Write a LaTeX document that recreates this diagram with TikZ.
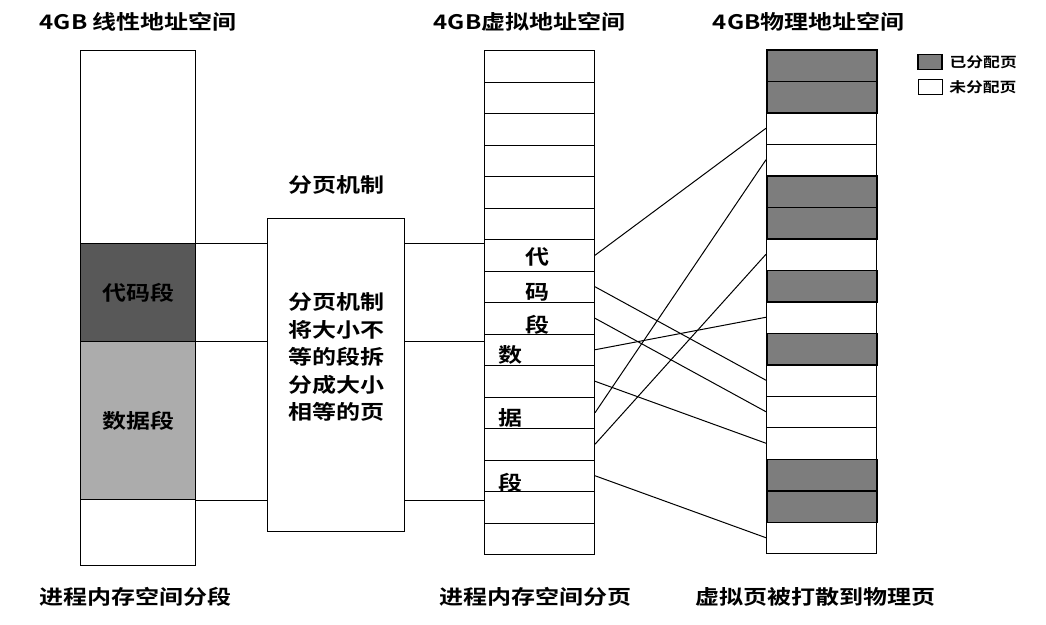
\documentclass[tikz,border=0pt]{standalone}
\usepackage{fontspec}
\setmainfont{Noto Sans CJK SC Bold}[FakeStretch=1.2]
\usetikzlibrary{positioning}
\definecolor{codegray}{RGB}{88,88,88}
\definecolor{datagray}{RGB}{172,172,172}
\definecolor{usedgray}{RGB}{125,125,125}
\tikzset{
  page/.style={draw, line width=1pt, minimum width=110pt, minimum height=31.5pt, inner sep=0pt, anchor=north west},
  used/.style={page, fill=usedgray, line width=1.6pt},
  title/.style={font=\fontsize{20}{22}\selectfont, anchor=west},
  glyph/.style={font=\fontsize{20}{27.5}\selectfont},
  key/.style={draw, minimum width=24pt, minimum height=15pt, inner sep=0pt}
}

\begin{document}
\begin{tikzpicture}[x=1pt, y=-1pt, line width=1pt]
  \useasboundingbox (0, 0) rectangle (1046, 624);

  % linear address space
  \draw (80, 50) rectangle (195, 565);
  \node[draw, fill=codegray, minimum width=115pt, minimum height=98pt, inner sep=0pt, anchor=north west, glyph] (code) at (80, 243) {代码段};
  \node[draw, fill=datagray, minimum width=115pt, minimum height=158pt, inner sep=0pt, anchor=north west, glyph] (data) at (80, 341) {数据段};

  % paging box
  \node[draw, minimum width=137pt, minimum height=313pt, anchor=north west] (pg) at (267, 218) {};
  \node[glyph, align=center] (pgtext) at (336, 357) {分页机制\\将大小不\\等的段拆\\分成大小\\相等的页};
  \node[glyph, above=20pt of pg] (pgtitle) {分页机制};

  % virtual pages
  \foreach \i in {0,...,15}
    \node[page] (v\i) at (484, 50 + 31.5*\i) {};
  \node[glyph] (c1) at (537, 257) {代};
  \node[glyph] (c2) at (537, 292) {码};
  \node[glyph] (c3) at (537, 325) {段};
  \node[glyph] (d1) at (510, 355) {数};
  \node[glyph] (d2) at (510, 418) {据};
  \node[glyph] (d3) at (510, 483) {段};

  % physical pages
  \foreach \i in {0,...,15}
    \node[page] (p\i) at (766, 49 + 31.5*\i) {};
  \foreach \i in {0,1,4,5,7,9,13,14}
    \node[used] (u\i) at (766, 49 + 31.5*\i) {};

  % segment borders through the paging box
  \foreach \s/\a in {code/north, data/north, data/south} {
    \draw (\s.\a\space east) -- (\s.\a\space east -| pg.west);
    \draw (\s.\a\space east -| pg.east) -- (\s.\a\space east -| v0.west);
  }

  % virtual page to physical page
  \foreach \v/\p in {6/2, 7/10, 8/11, 9/8, 10/12, 11/3, 12/6, 13/15}
    \draw (v\v.east) -- (p\p.west);

  % legend
  \node[key, fill=usedgray, line width=1.6pt] (lg1) at (930, 62) {};
  \node[key, below=9pt of lg1] (lg2) {};
  \node[font=\fontsize{14}{16}\selectfont, right=3pt of lg1] (lg1t) {已分配页};
  \node[font=\fontsize{14}{16}\selectfont, right=3pt of lg2] (lg2t) {未分配页};

  % titles
  \node[title] (t1) at (36, 22) {4GB 线性地址空间};
  \node[title] (t2) at (430, 22) {4GB虚拟地址空间};
  \node[title] (t3) at (709, 22) {4GB物理地址空间};
  \node[title] (b1) at (36, 597) {进程内存空间分段};
  \node[title] (b2) at (436, 597) {进程内存空间分页};
  \node[title] (b3) at (692, 597) {虚拟页被打散到物理页};
\end{tikzpicture}
\end{document}
